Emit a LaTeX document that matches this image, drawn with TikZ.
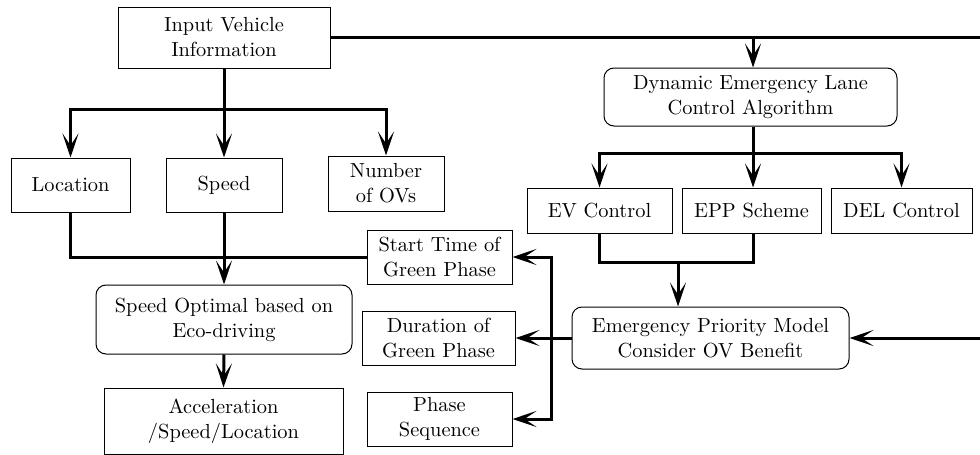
\documentclass[tikz,border=0pt]{standalone}
\usetikzlibrary{arrows.meta}
\begin{document}
\begin{tikzpicture}[x=0.5pt,y=-0.5pt,
  font=\fontsize{10.2}{12.5}\selectfont,
  box/.style={draw,line width=0.5pt,align=center,inner sep=0pt},
  rbox/.style={box,rounded corners=5pt},
  line/.style={line width=1.5pt},
  flow/.style={line,-{Stealth[length=12pt,width=8pt,inset=6pt]}}]
  \useasboundingbox (0,0) rectangle (980,455);
  \node[box,minimum width=106pt,minimum height=30.5pt] (input) at (224,37.5) {Input Vehicle\\Information};
  \node[rbox,minimum width=146.5pt,minimum height=29pt] (dela) at (750.5,97) {Dynamic Emergency Lane\\Control Algorithm};
  \node[box,minimum width=59.5pt,minimum height=27pt] (loc) at (70.5,185) {Location};
  \node[box,minimum width=58pt,minimum height=27pt] (spd) at (224,185) {Speed};
  \node[box,minimum width=58pt,minimum height=27.5pt] (num) at (386,183.5) {Number\\of OVs};
  \node[box,minimum width=72.5pt,minimum height=22.5pt] (evc) at (599.5,210.5) {EV Control};
  \node[box,minimum width=69.5pt,minimum height=22.5pt] (epp) at (751.5,210.5) {EPP Scheme};
  \node[box,minimum width=70.5pt,minimum height=22.5pt] (delc) at (901.5,210.5) {DEL Control};
  \node[box,minimum width=72.5pt,minimum height=27pt] (start) at (439.5,257) {Start Time of\\Green Phase};
  \node[box,minimum width=76.5pt,minimum height=27pt] (dur) at (438.5,338) {Duration of\\Green Phase};
  \node[box,minimum width=72.5pt,minimum height=27pt] (phase) at (439.5,419) {Phase\\Sequence};
  \node[rbox,minimum width=128pt,minimum height=34.5pt] (opt) at (224,319.5) {Speed Optimal based on\\Eco-driving};
  \node[box,minimum width=119.5pt,minimum height=33pt] (acc) at (223.5,421) {Acceleration\\/Speed/Location};
  \node[rbox,minimum width=138.5pt,minimum height=31pt] (epm) at (710.5,338) {Emergency Priority Model\\Consider OV Benefit};

  \coordinate (top) at (980,37.5);
  \coordinate (rgt) at (980,338);
  \coordinate (lbus) at (224,109);
  \coordinate (rbus) at (753,153);
  \coordinate (ebus) at (678,262);
  \coordinate (vbus) at (551,338);

  \draw[line] (input.east) -- (top);
  \draw[flow] (rbus |- top) -- (rbus |- dela.north);
  \draw[line] (input.south) -- (lbus);
  \draw[flow] (lbus) -| (loc.north);
  \draw[flow] (lbus) -- (spd.north);
  \draw[flow] (lbus) -| (num.north);
  \draw[line] (rbus |- dela.south) -- (rbus);
  \draw[flow] (rbus) -| (evc.north);
  \draw[flow] (rbus) -- (rbus |- epp.north);
  \draw[flow] (rbus) -| (delc.north);
  \draw[line] (loc.south) |- (start.west);
  \draw[flow] (spd.south) -- (opt.north);
  \draw[flow] (opt.south) -- (acc.north);
  \draw[line] (evc.south) |- (ebus) -| (rbus |- epp.south);
  \draw[flow] (ebus) -- (ebus |- epm.north);
  \draw[flow] (epm.west) -- (dur.east);
  \draw[flow] (vbus) |- (start.east);
  \draw[flow] (vbus) |- (phase.east);
  \draw[flow] (rgt) -- (epm.east);
\end{tikzpicture}
\end{document}
